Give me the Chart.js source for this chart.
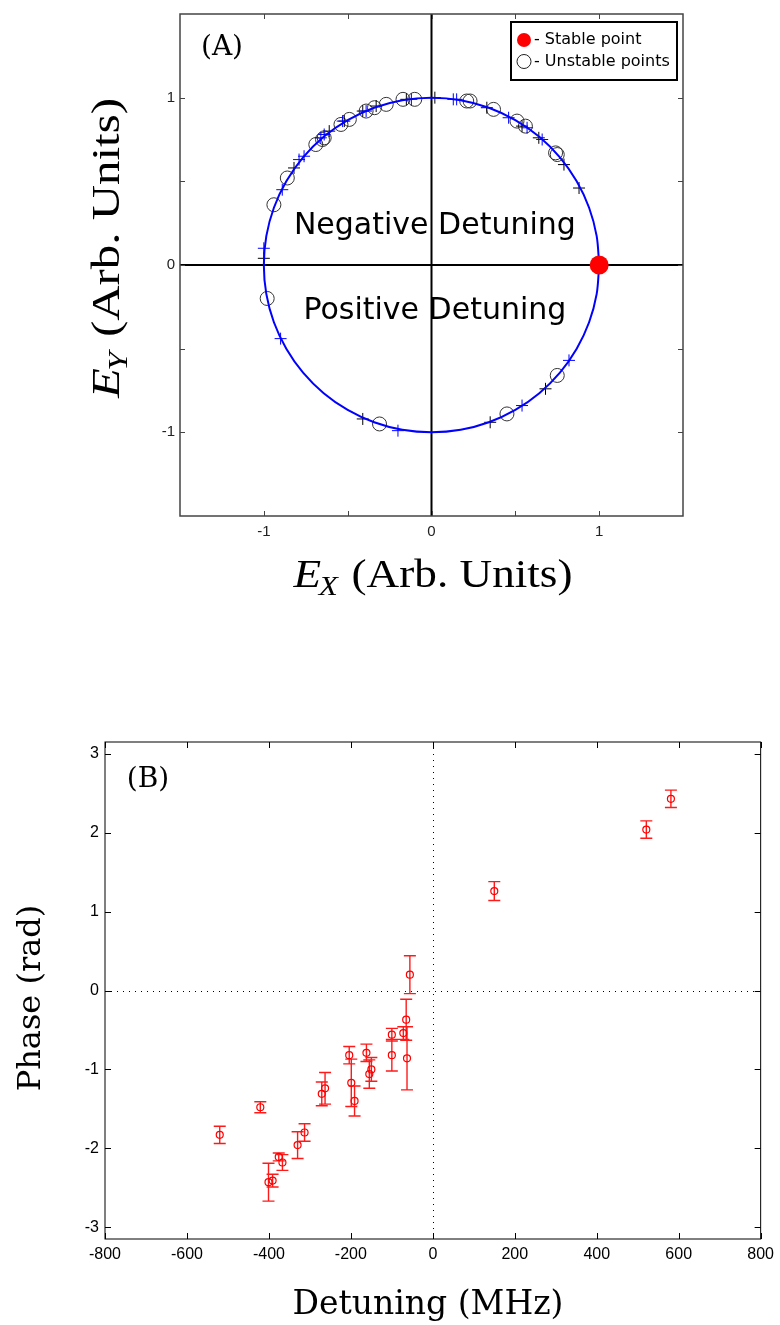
<!DOCTYPE html>
<html>
<head>
<meta charset="utf-8">
<script src="https://cdn.jsdelivr.net/npm/chart.js@4.4.0/dist/chart.umd.min.js"></script>
<style>
  body { margin: 0; background: #fff; width: 780px; height: 1325px; position: relative; overflow: hidden; }
  #chartA { position: absolute; left: 0; top: 0; }
  #chartB { position: absolute; left: 0; top: 700px; }
</style>
</head>
<body>
<canvas id="chartA" width="780" height="620"></canvas>
<canvas id="chartB" width="780" height="625"></canvas>
<script>
// ---- panel A : field points on the unit circle ----
const unstableX = [-0.10, -0.17, -0.27, -0.34, -0.39, -0.49, -0.54, -0.64, -0.65, -0.69, -0.86, -0.94, -0.98, -0.31, 0.45, 0.75, 0.74, 0.75, 0.56, 0.51, 0.37, 0.23, 0.21];
const unstableY = [0.99, 0.99, 0.96, 0.94, 0.92, 0.87, 0.84, 0.76, 0.75, 0.72, 0.52, 0.36, -0.20, -0.95, -0.89, -0.66, 0.67, 0.66, 0.83, 0.86, 0.93, 0.98, 0.98];

const blackPlusX = [0.02, -0.15, -0.33, -0.41, -0.52, -0.61, -0.82, -1.00, -0.41, 0.35, 0.68, 0.79, 0.88, 0.64, 0.54, 0.33];
const blackPlusY = [1.00, 0.99, 0.95, 0.92, 0.86, 0.80, 0.58, 0.04, -0.92, -0.94, -0.74, 0.60, 0.46, 0.76, 0.83, 0.94];

const bluePlusX = [0.13, 0.15, 0.46, 0.57, 0.66, 0.82, 0.54, -0.20, -0.90, -1.00, -0.89, -0.79, -0.76, -0.66, -0.64, -0.53, -0.39, -0.12];
const bluePlusY = [0.99, 0.99, 0.88, 0.82, 0.75, -0.57, -0.84, -0.99, -0.44, 0.10, 0.45, 0.63, 0.65, 0.76, 0.78, 0.86, 0.92, 0.99];

const stableX = [1];
const stableY = [0];

// unit circle, every 10 degrees (smoothed by the line tension)
const circleX = [1, 0.985, 0.940, 0.866, 0.766, 0.643, 0.5, 0.342, 0.174, 0, -0.174, -0.342, -0.5, -0.643, -0.766, -0.866, -0.940, -0.985,
                 -1, -0.985, -0.940, -0.866, -0.766, -0.643, -0.5, -0.342, -0.174, 0, 0.174, 0.342, 0.5, 0.643, 0.766, 0.866, 0.940, 0.985, 1];
const circleY = [0, 0.174, 0.342, 0.5, 0.643, 0.766, 0.866, 0.940, 0.985, 1, 0.985, 0.940, 0.866, 0.766, 0.643, 0.5, 0.342, 0.174,
                 0, -0.174, -0.342, -0.5, -0.643, -0.766, -0.866, -0.940, -0.985, -1, -0.985, -0.940, -0.866, -0.766, -0.643, -0.5, -0.342, -0.174, 0];

const ticksA = [-1, -0.5, 0, 0.5, 1];
const tickLabelsA = ['-1', '', '0', '', '1'];

// ---- panel B : phase vs detuning ----
const detuning = [-520, -421, -401, -391, -376, -367, -330, -313, -271, -263, -204, -199, -191, -162, -155, -150, -100, -100, -72, -65, -63, -56, 150, 521, 581];
const phase    = [-1.83, -1.48, -2.43, -2.41, -2.11, -2.18, -1.96, -1.80, -1.31, -1.24, -0.82, -1.17, -1.40, -0.79, -1.06, -1.00, -0.56, -0.82, -0.54, -0.37, -0.86, 0.20, 1.26, 2.04, 2.43];
const phaseErr = [0.11, 0.07, 0.24, 0.08, 0.05, 0.10, 0.17, 0.11, 0.15, 0.20, 0.11, 0.30, 0.19, 0.11, 0.18, 0.15, 0.08, 0.20, 0.08, 0.26, 0.40, 0.24, 0.12, 0.11, 0.11];

const detTicks = [-800, -600, -400, -200, 0, 200, 400, 600, 800];
const phaseTicks = [-3, -2, -1, 0, 1, 2, 3];

const pts = (xs, ys) => xs.map((x, i) => ({ x: x, y: ys[i] }));

// frame round the plot area with inward tick marks on all four sides
function drawFrame(chart, tickLen, color, width) {
    const { ctx, chartArea: a, scales: { x, y } } = chart;
    ctx.save();
    ctx.strokeStyle = color;
    ctx.lineWidth = width;
    ctx.strokeRect(a.left, a.top, a.right - a.left, a.bottom - a.top);
    ctx.lineWidth = 1;
    ctx.beginPath();
    x.ticks.forEach(t => {
        const px = Math.round(x.getPixelForValue(t.value)) + 0.5;
        ctx.moveTo(px, a.bottom); ctx.lineTo(px, a.bottom - tickLen);
        ctx.moveTo(px, a.top); ctx.lineTo(px, a.top + tickLen);
    });
    y.ticks.forEach(t => {
        const py = Math.round(y.getPixelForValue(t.value)) + 0.5;
        ctx.moveTo(a.left, py); ctx.lineTo(a.left + tickLen, py);
        ctx.moveTo(a.right, py); ctx.lineTo(a.right - tickLen, py);
    });
    ctx.stroke();
    ctx.restore();
}

// "E_sub (Arb. Units)" centred on the current origin, stretched to a given width
function drawFieldLabel(ctx, sub, targetWidth) {
    const big = 39, small = 27;
    ctx.font = `italic ${big}px "Liberation Serif"`;
    const wE = ctx.measureText('E').width;
    ctx.font = `italic ${small}px "Liberation Serif"`;
    const wS = ctx.measureText(sub).width;
    ctx.font = `${big}px "Liberation Serif"`;
    const rest = ' (Arb. Units)';
    const wR = ctx.measureText(rest).width;
    const total = wE + wS + wR;
    ctx.scale(targetWidth / total, 1);
    const x0 = -total / 2;
    ctx.textAlign = 'left';
    ctx.textBaseline = 'alphabetic';
    ctx.font = `italic ${big}px "Liberation Serif"`;
    ctx.fillText('E', x0, 13);
    ctx.font = `italic ${small}px "Liberation Serif"`;
    ctx.fillText(sub, x0 + wE - 2, 21);
    ctx.font = `${big}px "Liberation Serif"`;
    ctx.fillText(rest, x0 + wE + wS, 13);
}

const panelAPlugin = {
    id: 'panelA',
    beforeDatasetsDraw(chart) {
        const { ctx, chartArea: a, scales: { x, y } } = chart;
        ctx.save();
        ctx.strokeStyle = '#000';
        ctx.lineWidth = 2;
        const x0 = x.getPixelForValue(0), y0 = y.getPixelForValue(0);
        ctx.beginPath();
        ctx.moveTo(x0, a.top); ctx.lineTo(x0, a.bottom);
        ctx.moveTo(a.left, y0); ctx.lineTo(a.right, y0);
        ctx.stroke();
        ctx.fillStyle = '#000';
        ctx.font = '30px "DejaVu Sans"';
        ctx.textAlign = 'center';
        ctx.textBaseline = 'alphabetic';
        ctx.fillText('Negative Detuning', x.getPixelForValue(0.02), y.getPixelForValue(0.187));
        ctx.fillText('Positive Detuning', x.getPixelForValue(0.02), y.getPixelForValue(-0.32));
        ctx.restore();
    },
    afterDraw(chart) {
        const { ctx } = chart;
        drawFrame(chart, 5, '#444', 1.5);
        ctx.save();
        // legend box
        ctx.fillStyle = '#fff';
        ctx.fillRect(511, 22, 166, 58);
        ctx.strokeStyle = '#000';
        ctx.lineWidth = 2;
        ctx.strokeRect(511, 22, 166, 58);
        ctx.fillStyle = '#ff0000';
        ctx.beginPath(); ctx.arc(524, 40, 7, 0, Math.PI * 2); ctx.fill();
        ctx.strokeStyle = '#222';
        ctx.lineWidth = 1;
        ctx.beginPath(); ctx.arc(524, 61.5, 7, 0, Math.PI * 2); ctx.stroke();
        ctx.fillStyle = '#000';
        ctx.font = '16px "DejaVu Sans"';
        ctx.textAlign = 'left';
        ctx.textBaseline = 'middle';
        ctx.fillText('- Stable point', 534, 40);
        ctx.fillText('- Unstable points', 534, 61.5);
        // panel tag
        ctx.font = '28px "DejaVu Serif"';
        ctx.textAlign = 'center';
        ctx.fillText('(A)', 222, 48);
        // axis titles
        ctx.save();
        ctx.translate(433, 574);
        drawFieldLabel(ctx, 'X', 279);
        ctx.restore();
        ctx.save();
        ctx.translate(106, 248);
        ctx.rotate(-Math.PI / 2);
        drawFieldLabel(ctx, 'Y', 300);
        ctx.restore();
        ctx.restore();
    }
};

const chartA = new Chart(document.getElementById('chartA'), {
    type: 'scatter',
    data: {
        datasets: [
            { label: 'Stable point', data: pts(stableX, stableY), pointStyle: 'circle', pointRadius: 9.5,
              backgroundColor: '#ff0000', borderColor: '#ff0000', borderWidth: 0 },
            { label: 'Circle', data: pts(circleX, circleY), showLine: true, pointRadius: 0,
              borderColor: '#0000ff', borderWidth: 2, tension: 0.33 },
            { label: 'Blue +', data: pts(bluePlusX, bluePlusY), pointStyle: 'cross', pointRadius: 6,
              borderColor: '#0000ff', borderWidth: 1 },
            { label: 'Black +', data: pts(blackPlusX, blackPlusY), pointStyle: 'cross', pointRadius: 6,
              borderColor: '#000', borderWidth: 1 },
            { label: 'Unstable points', data: pts(unstableX, unstableY), pointStyle: 'circle', pointRadius: 7,
              borderColor: '#333', backgroundColor: 'rgba(0,0,0,0)', borderWidth: 1 }
        ]
    },
    options: {
        responsive: false,
        animation: false,
        devicePixelRatio: 1,
        layout: { padding: { top: 13, right: 97, bottom: 0, left: 0 } },
        plugins: { legend: { display: false }, tooltip: { enabled: false } },
        scales: {
            x: {
                type: 'linear', min: -1.5, max: 1.5,
                afterBuildTicks: s => { s.ticks = ticksA.map(v => ({ value: v })); },
                afterFit: s => { s.height = 104; },
                grid: { display: false, drawTicks: false },
                border: { display: false },
                ticks: { autoSkip: false, maxRotation: 0, padding: 7, color: '#222',
                         font: { family: 'Liberation Sans', size: 15 },
                         callback: (v, i) => tickLabelsA[i] }
            },
            y: {
                type: 'linear', min: -1.5, max: 1.5,
                afterBuildTicks: s => { s.ticks = ticksA.map(v => ({ value: v })); },
                afterFit: s => { s.width = 180; },
                grid: { display: false, drawTicks: false },
                border: { display: false },
                ticks: { autoSkip: false, padding: 5, color: '#222',
                         font: { family: 'Liberation Sans', size: 15 },
                         callback: (v, i) => tickLabelsA[i] }
            }
        }
    },
    plugins: [panelAPlugin]
});

const panelBPlugin = {
    id: 'panelB',
    beforeDatasetsDraw(chart) {
        const { ctx, chartArea: a, scales: { x, y } } = chart;
        ctx.save();
        // dotted zero lines
        ctx.strokeStyle = '#000';
        ctx.lineWidth = 1;
        ctx.setLineDash([1, 5]);
        const x0 = Math.round(x.getPixelForValue(0)) + 0.5, y0 = Math.round(y.getPixelForValue(0)) + 0.5;
        ctx.beginPath();
        ctx.moveTo(x0, a.top); ctx.lineTo(x0, a.bottom);
        ctx.moveTo(a.left, y0); ctx.lineTo(a.right, y0);
        ctx.stroke();
        ctx.setLineDash([]);
        // error bars
        ctx.strokeStyle = '#ff1a1a';
        ctx.lineWidth = 1.4;
        ctx.beginPath();
        detuning.forEach((d, i) => {
            const px = x.getPixelForValue(d);
            const top = y.getPixelForValue(phase[i] + phaseErr[i]);
            const bot = y.getPixelForValue(phase[i] - phaseErr[i]);
            ctx.moveTo(px, top); ctx.lineTo(px, bot);
            ctx.moveTo(px - 6, top); ctx.lineTo(px + 6, top);
            ctx.moveTo(px - 6, bot); ctx.lineTo(px + 6, bot);
        });
        ctx.stroke();
        ctx.restore();
    },
    afterDraw(chart) {
        const { ctx } = chart;
        drawFrame(chart, 6, '#000', 1);
        ctx.save();
        ctx.fillStyle = '#000';
        ctx.font = '28px "DejaVu Serif"';
        ctx.textAlign = 'center';
        ctx.textBaseline = 'middle';
        ctx.fillText('(B)', 148, 80);
        ctx.font = '33px "DejaVu Serif"';
        ctx.fillText('Detuning (MHz)', 428, 605);
        ctx.save();
        ctx.translate(32, 298);
        ctx.rotate(-Math.PI / 2);
        ctx.font = '32px "DejaVu Serif"';
        ctx.fillText('Phase (rad)', 0, 0);
        ctx.restore();
        ctx.restore();
    }
};

const chartB = new Chart(document.getElementById('chartB'), {
    type: 'scatter',
    data: {
        datasets: [
            { label: 'Phase', data: pts(detuning, phase), pointStyle: 'circle', pointRadius: 3.5,
              borderColor: '#ff0000', backgroundColor: 'rgba(0,0,0,0)', borderWidth: 1.2 }
        ]
    },
    options: {
        responsive: false,
        animation: false,
        devicePixelRatio: 1,
        layout: { padding: { top: 42, right: 15, bottom: 0, left: 0 } },
        plugins: { legend: { display: false }, tooltip: { enabled: false } },
        scales: {
            x: {
                type: 'linear', min: -800, max: 800,
                afterBuildTicks: s => { s.ticks = detTicks.map(v => ({ value: v })); },
                afterFit: s => { s.height = 86; },
                grid: { display: false, drawTicks: false },
                border: { display: false },
                ticks: { autoSkip: false, maxRotation: 0, padding: 6, color: '#000',
                         font: { family: 'Liberation Sans', size: 16 } }
            },
            y: {
                type: 'linear', min: -3.15, max: 3.15,
                afterBuildTicks: s => { s.ticks = phaseTicks.map(v => ({ value: v })); },
                afterFit: s => { s.width = 105; },
                grid: { display: false, drawTicks: false },
                border: { display: false },
                ticks: { autoSkip: false, padding: 6, color: '#000',
                         font: { family: 'Liberation Sans', size: 16 } }
            }
        }
    },
    plugins: [panelBPlugin]
});
</script>
</body>
</html>
